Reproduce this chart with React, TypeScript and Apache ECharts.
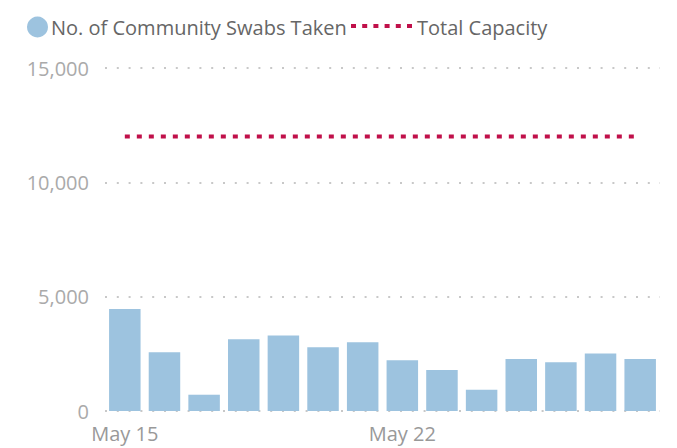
import React, { useEffect, useRef } from "react";
import * as echarts from "echarts";

const dates = ["May 15", "May 16", "May 17", "May 18", "May 19", "May 20", "May 21", "May 22", "May 23", "May 24", "May 25", "May 26", "May 27", "May 28"];
const swabs = [4458, 2566, 712, 3133, 3307, 2783, 3002, 2215, 1792, 932, 2273, 2127, 2520, 2273];
const capacity = [12000, 12000, 12000, 12000, 12000, 12000, 12000, 12000, 12000, 12000, 12000, 12000, 12000, 12000];
const yTicks = [0, 5000, 10000, 15000];
const seriesNames = ["No. of Community Swabs Taken", "Total Capacity"];

const FONT = "'Open Sans', 'Segoe UI', sans-serif";
const BAR_COLOR = "#9dc3df";
const LINE_COLOR = "#c0104a";

export default function App() {
  const ref = useRef<HTMLDivElement>(null);
  useEffect(() => {
    if (!ref.current) return;
    const chart = echarts.init(ref.current, undefined, { renderer: "svg" });
    chart.setOption({
      animation: false,
      backgroundColor: "#ffffff",
      textStyle: { fontFamily: FONT },
      grid: { left: 105, right: 17, top: 68, bottom: 37, containLabel: false },
      graphic: [
        { type: "circle", shape: { cx: 37.5, cy: 27, r: 10.5 }, style: { fill: BAR_COLOR } },
        {
          type: "text",
          x: 51,
          y: 27,
          style: { text: seriesNames[0], fill: "#666666", font: `20px ${FONT}`, textVerticalAlign: "middle", verticalAlign: "middle" },
        },
        {
          type: "line",
          shape: { x1: 351, y1: 26, x2: 413, y2: 26 },
          style: { stroke: LINE_COLOR, lineWidth: 4, lineDash: [5, 6.2] },
        },
        {
          type: "text",
          x: 417,
          y: 27,
          style: { text: seriesNames[1], fill: "#666666", font: `20px ${FONT}`, textVerticalAlign: "middle", verticalAlign: "middle" },
        },
      ],
      xAxis: {
        type: "category",
        data: dates,
        boundaryGap: true,
        axisLine: { show: false },
        axisTick: { show: false },
        axisLabel: {
          interval: (i: number) => i % 7 === 0,
          color: "#999999",
          fontSize: 20,
          fontFamily: FONT,
          margin: 12,
        },
      },
      yAxis: {
        type: "value",
        min: yTicks[0],
        max: yTicks[yTicks.length - 1],
        interval: 5000,
        axisLine: { show: false },
        axisTick: { show: false },
        axisLabel: {
          color: "#aaaaaa",
          fontSize: 20,
          fontFamily: FONT,
          margin: 16,
          formatter: (v: number) => v.toLocaleString("en-US"),
        },
        splitLine: { show: true, lineStyle: { color: "#c8c8c8", width: 2, type: [2, 9.8] } },
      },
      series: [
        {
          name: seriesNames[0],
          type: "bar",
          data: swabs,
          barWidth: 31.5,
          itemStyle: { color: BAR_COLOR },
        },
        {
          name: seriesNames[1],
          type: "line",
          data: capacity,
          symbol: "none",
          lineStyle: { color: LINE_COLOR, width: 4, type: [5, 7] },
        },
      ],
    });
    return () => chart.dispose();
  }, []);
  return <div ref={ref} style={{ width: 677, height: 448, position: "absolute", left: 0, top: 0 }} />;
}
